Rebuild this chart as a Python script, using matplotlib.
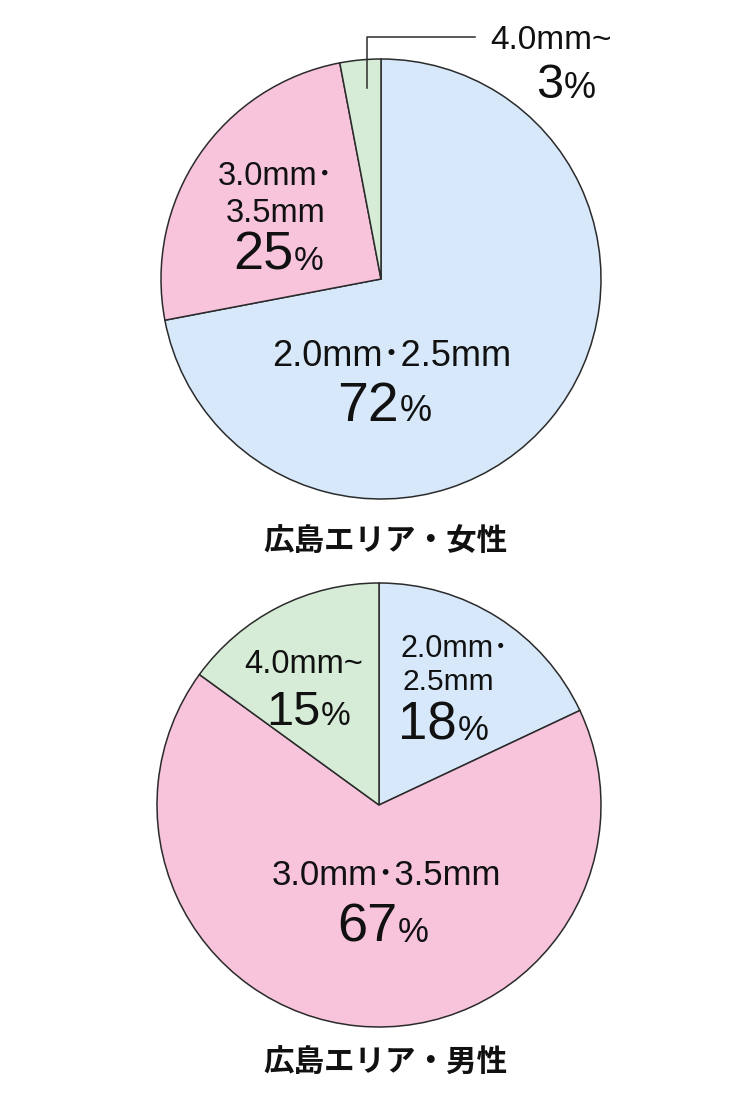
import matplotlib
matplotlib.use("Agg")
import matplotlib.pyplot as plt

# ---------------------------------------------------------------------------
# Data
# ---------------------------------------------------------------------------
categories = ["2.0mm・2.5mm", "3.0mm・3.5mm", "4.0mm~"]
female_share = [72, 25, 3]
male_share = [18, 67, 15]
titles = ["広島エリア・女性", "広島エリア・男性"]

colors = ["#d6e8fa", "#f7c4dc", "#d6ecd6"]
EDGE = "#2b2b2b"

W, H = 750, 1114
LATIN = ["Liberation Sans", "Noto Sans CJK JP"]
CJK = ["Noto Sans CJK JP", "DejaVu Sans"]

fig = plt.figure(figsize=(W / 100, H / 100), dpi=100)
fig.patch.set_facecolor("white")
ax = fig.add_axes([0, 0, 1, 1])


def Y(py):
    # pixel row (from top) -> data y
    return H - py


def label(x, y, s, size):
    ax.text(x, Y(y), s, ha="center", va="baseline", fontsize=size,
            family=LATIN, color="#111111")


def pct(xsplit, y, value, size, psize):
    ax.text(xsplit, Y(y), str(value), ha="right", va="baseline",
            fontsize=size, family=LATIN, color="#111111")
    ax.text(xsplit + 1, Y(y), "%", ha="left", va="baseline",
            fontsize=psize, family=LATIN, color="#111111")


wedge_style = dict(edgecolor=EDGE, linewidth=1.1)

# top pie : female
ax.pie(female_share, colors=colors, startangle=90, counterclock=False,
       center=(381, Y(279)), radius=220, wedgeprops=wedge_style)
# bottom pie : male
ax.pie(male_share, colors=colors, startangle=90, counterclock=False,
       center=(379, Y(805)), radius=222, wedgeprops=wedge_style)

ax.set_xlim(0, W)
ax.set_ylim(0, H)
ax.set_aspect("equal")
ax.axis("off")

# female labels
label(392, 366, "2.0mm･2.5mm", 26)
pct(399, 421, female_share[0], 40, 26)
label(276, 185, "3.0mm･", 23.5)
label(276, 222, "3.5mm", 23.5)
pct(293, 270, female_share[1], 39, 24)
label(551, 49, "4.0mm~", 24)
pct(563, 98, female_share[2], 35, 26)
ax.plot([475, 367, 367], [Y(37), Y(37), Y(88)], color=EDGE, lw=1.1)

# male labels
label(455, 657, "2.0mm･", 22)
label(448, 690, "2.5mm", 21.5)
pct(457, 740, male_share[0], 38, 25)
label(304, 673, "4.0mm~", 23.5)
pct(320, 725, male_share[2], 35, 24)
label(386, 885, "3.0mm･3.5mm", 25)
pct(397, 942, male_share[1], 39, 25)

# titles
ax.text(385, Y(541), titles[0], ha="center", va="center", fontsize=22,
        family=CJK, fontweight="bold", color="#111111")
ax.text(385, Y(1063), titles[1], ha="center", va="center", fontsize=22,
        family=CJK, fontweight="bold", color="#111111")

fig.savefig("out.png", dpi=100, facecolor="white")
